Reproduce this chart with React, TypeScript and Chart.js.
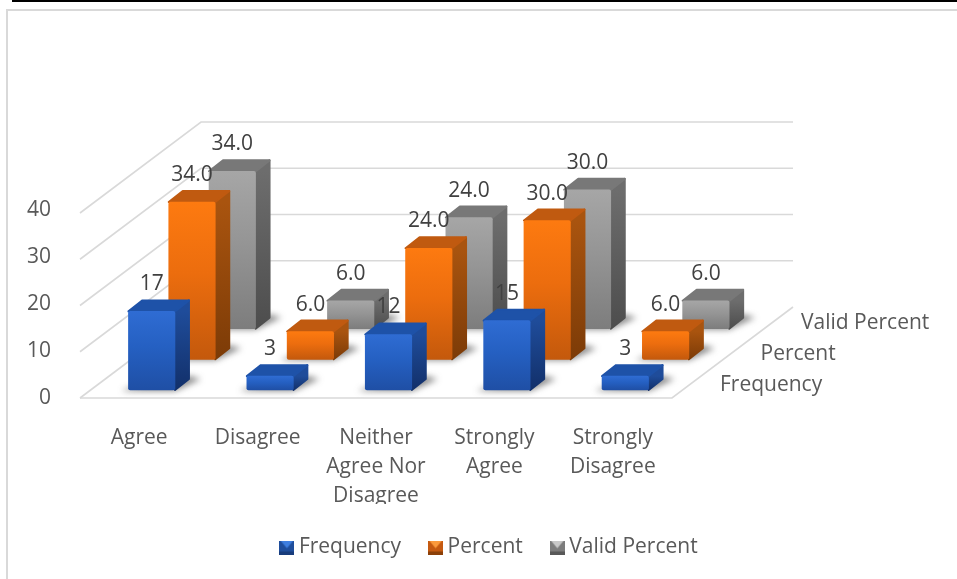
import React, { useEffect, useRef } from "react";
import { Chart, registerables } from "chart.js";

Chart.register(...registerables);

const categories = [
  "Agree",
  "Disagree",
  ["Neither", "Agree Nor", "Disagree"],
  ["Strongly", "Agree"],
  ["Strongly", "Disagree"],
];
const seriesNames = ["Frequency", "Percent", "Valid Percent"];
const frequency = [17, 3, 12, 15, 3];
const percent = [34.0, 6.0, 24.0, 30.0, 6.0];
const validPercent = [34.0, 6.0, 24.0, 30.0, 6.0];
const decimals = [0, 1, 1];

const FONT = "'Open Sans', sans-serif";
const FONT_SIZE = 21;

// Per-series shading: front gradient stops, side gradient stops, top face.
const shades = [
  { front: ["#2f6cd3", "#2560c2", "#1f4fa5"], side: ["#1f4c9a", "#12306a"], top: "#1e52a8", legend: ["#3f7fe0", "#1f4e9c", "#183c7c"] },
  { front: ["#fd7a10", "#ec6d0e", "#c4590c"], side: ["#a9540f", "#7c3b07"], top: "#c05a10", legend: ["#fb9a3c", "#c55a11", "#8c4009"] },
  { front: ["#a6a6a6", "#959595", "#7d7d7d"], side: ["#6d6d6d", "#4d4d4d"], top: "#787878", legend: ["#c8c8c8", "#7c7c7c", "#585858"] },
];

// Oblique projection of the 3-D plot box.
const WALL_DX = 121;
const WALL_DY = 91;
const ROW_START_DX = 12.5;
const ROW_START_DY = 8;
const ROW_DX = 40.3;
const ROW_DY = 30.7;
const BAR_DX = 14;
const BAR_DY = 11;
const BAR_WIDTH = 46.5;
const GRID = "#d9d9d9";
const TICK_DRIFT = 0.075;

const rowOffset = (i: number) => ({
  dx: ROW_START_DX + i * ROW_DX,
  dy: -(ROW_START_DY + i * ROW_DY),
});

function frontFill(context: any, series: number) {
  const { chart, dataIndex, dataset } = context;
  const stops = shades[series].front;
  const yScale = chart.scales?.y;
  if (!chart.chartArea || !yScale) return stops[1];
  const grad = chart.ctx.createLinearGradient(
    0,
    yScale.getPixelForValue(dataset.data[dataIndex]),
    0,
    yScale.getPixelForValue(0),
  );
  grad.addColorStop(0, stops[0]);
  grad.addColorStop(0.45, stops[1]);
  grad.addColorStop(1, stops[2]);
  return grad;
}

function legendSwatch(series: number) {
  const w = 15;
  const h = 14;
  const canvas = document.createElement("canvas");
  canvas.width = w;
  canvas.height = h;
  const c = canvas.getContext("2d")!;
  const [light, mid, dark] = shades[series].legend;
  c.fillStyle = mid;
  c.fillRect(0, 0, w, h);
  c.fillStyle = light;
  c.beginPath();
  c.moveTo(1, 0);
  c.lineTo(w - 1, 0);
  c.lineTo(w / 2, h * 0.55);
  c.closePath();
  c.fill();
  c.fillStyle = dark;
  c.fillRect(0, h - 3, w, 3);
  return canvas;
}

// Walls and floor of the plot box, drawn from the value scale's ticks.
const wallsPlugin = {
  id: "walls",
  beforeDraw(chart: any) {
    const yScale = chart.scales.y;
    // Axis numbers sit on a slightly wider pitch than the wall lines.
    yScale.getLabelItems(chart.chartArea).forEach((item: any) => {
      const v = Number(item.label);
      item.options.translation[1] = yScale.getPixelForValue(v) - v * TICK_DRIFT;
    });
  },
  beforeDatasetsDraw(chart: any) {
    const { ctx, scales } = chart;
    const { left, right } = chart.chartArea;
    ctx.save();
    ctx.strokeStyle = GRID;
    ctx.lineWidth = 1.6;
    scales.y.ticks.forEach((tick: any) => {
      const y = scales.y.getPixelForValue(tick.value);
      ctx.beginPath();
      ctx.moveTo(left, y);
      ctx.lineTo(left + WALL_DX, y - WALL_DY);
      if (tick.value > 0) ctx.lineTo(right + WALL_DX, y - WALL_DY);
      ctx.stroke();
    });
    const floor = scales.y.getPixelForValue(0);
    ctx.beginPath();
    ctx.moveTo(left, floor);
    ctx.lineTo(right, floor);
    ctx.lineTo(right + WALL_DX, floor - WALL_DY);
    ctx.stroke();
    ctx.restore();
  },
};

// Extrudes each bar: soft floor shadow, side face and top face behind the
// front face that the bar element itself paints.
const extrudePlugin = {
  id: "extrude",
  beforeDatasetDraw(chart: any, args: any) {
    const { ctx } = chart;
    const i = args.index;
    const { dx, dy } = rowOffset(i);
    ctx.save();
    ctx.translate(dx, dy);
    args.meta.data.forEach((bar: any) => {
      const { x, y, base, width } = bar.getProps(["x", "y", "base", "width"], true);
      const l = x - width / 2;
      const r = x + width / 2;

      ctx.save();
      ctx.filter = "blur(3px)";
      ctx.fillStyle = "rgba(60,60,60,0.6)";
      ctx.beginPath();
      ctx.moveTo(l - 7, base + 1);
      ctx.lineTo(r, base + 1);
      ctx.lineTo(r + BAR_DX + 12, base - BAR_DY);
      ctx.lineTo(r + BAR_DX, base - BAR_DY - 3);
      ctx.lineTo(l, base - 2);
      ctx.closePath();
      ctx.fill();
      ctx.restore();

      const side = ctx.createLinearGradient(0, y, 0, base);
      side.addColorStop(0, shades[i].side[0]);
      side.addColorStop(1, shades[i].side[1]);
      ctx.lineJoin = "round";
      ctx.lineWidth = 2;
      ctx.fillStyle = side;
      ctx.strokeStyle = side;
      ctx.beginPath();
      ctx.moveTo(r, y);
      ctx.lineTo(r + BAR_DX, y - BAR_DY);
      ctx.lineTo(r + BAR_DX, base - BAR_DY);
      ctx.lineTo(r, base);
      ctx.closePath();
      ctx.fill();
      ctx.stroke();

      ctx.fillStyle = shades[i].top;
      ctx.strokeStyle = shades[i].top;
      ctx.beginPath();
      ctx.moveTo(l, y);
      ctx.lineTo(l + BAR_DX, y - BAR_DY);
      ctx.lineTo(r + BAR_DX, y - BAR_DY);
      ctx.lineTo(r, y);
      ctx.closePath();
      ctx.fill();
      ctx.stroke();
    });
  },
  afterDatasetDraw(chart: any) {
    chart.ctx.restore();
  },
};

// Value labels above the bars and the depth-axis series names.
const labelsPlugin = {
  id: "labels3d",
  afterDatasetsDraw(chart: any) {
    const { ctx, scales } = chart;
    ctx.save();
    ctx.font = `${FONT_SIZE}px ${FONT}`;
    ctx.textBaseline = "middle";
    ctx.textAlign = "center";
    ctx.fillStyle = "#404040";
    chart.data.datasets.forEach((ds: any, i: number) => {
      const { dx, dy } = rowOffset(i);
      chart.getDatasetMeta(i).data.forEach((bar: any, k: number) => {
        ctx.fillText(ds.data[k].toFixed(decimals[i]), bar.x + dx, bar.y + dy - 27);
      });
    });
    ctx.textAlign = "left";
    ctx.fillStyle = "#595959";
    const floor = scales.y.getPixelForValue(0);
    seriesNames.forEach((name, i) => {
      ctx.fillText(name, chart.chartArea.right + 48 + i * 40.5, floor - 13 - i * 31);
    });
    ctx.restore();
  },
};

export default function App() {
  const ref = useRef<HTMLCanvasElement>(null);

  useEffect(() => {
    const series = [frequency, percent, validPercent];
    const chart = new Chart(ref.current!, {
      type: "bar",
      data: {
        labels: categories as any,
        datasets: series.map((data, i) => ({
          label: seriesNames[i],
          data,
          grouped: false,
          barThickness: BAR_WIDTH,
          borderRadius: 2,
          borderSkipped: false,
          clip: false,
          backgroundColor: (c: any) => frontFill(c, i),
        })) as any,
      },
      plugins: [wallsPlugin, extrudePlugin, labelsPlugin],
      options: {
        responsive: false,
        animation: false,
        events: [],
        layout: { padding: { left: 26, right: 0, top: 213, bottom: 11 } },
        plugins: {
          tooltip: { enabled: false },
          legend: {
            position: "bottom",
            labels: {
              usePointStyle: true,
              pointStyleWidth: 3,
              padding: 33,
              color: "#595959",
              font: { family: FONT, size: FONT_SIZE },
              generateLabels: () =>
                seriesNames.map((text, i) => ({
                  text,
                  datasetIndex: i,
                  fontColor: "#595959",
                  pointStyle: legendSwatch(i),
                  hidden: false,
                })),
            },
          },
        },
        scales: {
          x: {
            grid: { display: false },
            border: { display: false },
            ticks: {
              color: "#595959",
              padding: 17,
              maxRotation: 0,
              autoSkip: false,
              font: { family: FONT, size: FONT_SIZE, lineHeight: 1.4 },
            },
            afterFit: (s: any) => {
              s.height = 106;
            },
          },
          y: {
            min: 0,
            max: 40,
            grid: { display: false },
            border: { display: false },
            ticks: {
              stepSize: 10,
              color: "#595959",
              padding: 21,
              font: { family: FONT, size: FONT_SIZE },
            },
            afterFit: (s: any) => {
              s.width = 54;
            },
          },
          // Depth axis: reserves the space right of the box for the series names.
          depth: {
            type: "category",
            labels: seriesNames,
            position: "right",
            grid: { display: false },
            border: { display: false },
            ticks: { display: false },
            afterFit: (s: any) => {
              s.width = 285;
            },
          },
        },
      } as any,
    });
    return () => chart.destroy();
  }, []);

  return (
    <div style={{ position: "absolute", left: 0, top: 0, width: 957, height: 579, overflow: "hidden", background: "#fff" }}>
      <div style={{ position: "absolute", left: 12, top: 0, width: 945, height: 2, background: "#000" }} />
      <div style={{ position: "absolute", left: 6, top: 9, width: 1000, height: 600, border: "2px solid #d9d9d9" }} />
      <canvas ref={ref} width={957} height={579} style={{ position: "absolute", left: 0, top: 0 }} />
    </div>
  );
}
